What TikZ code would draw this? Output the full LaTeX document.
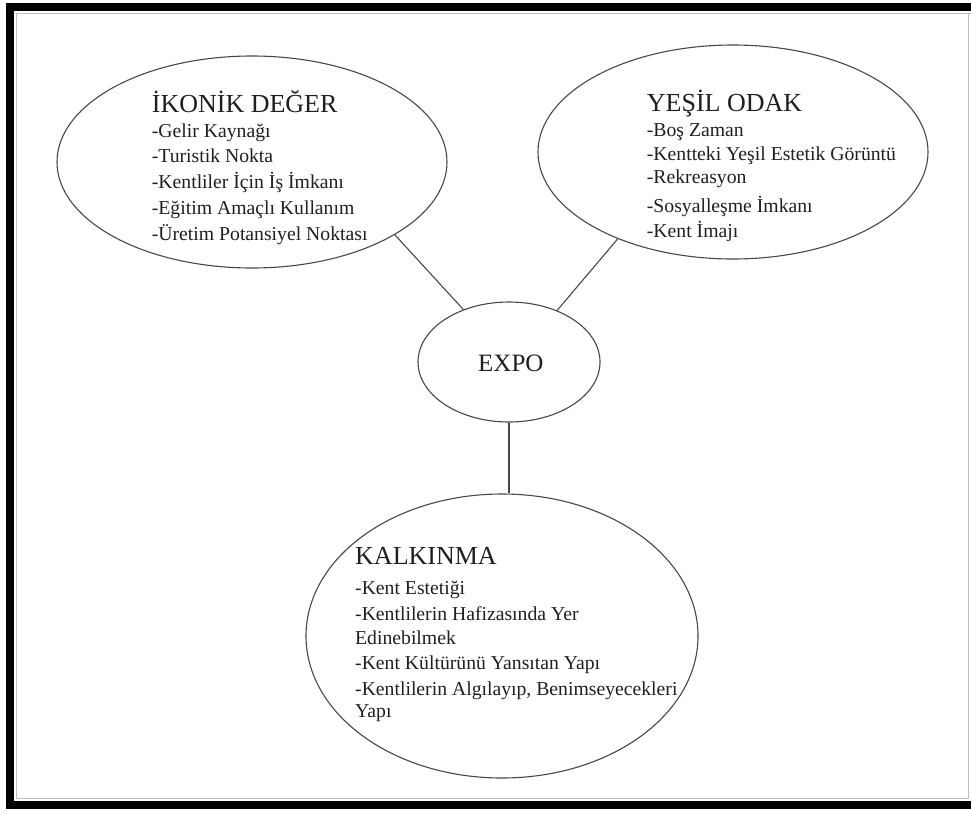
\documentclass[tikz,border=0pt]{standalone}
\usepackage{fontspec}
\setmainfont{Liberation Serif}
\usetikzlibrary{shapes.geometric}
\begin{document}
\begin{tikzpicture}[x=1pt,y=-1pt,
  bubble/.style={draw=black!72, line width=1.1pt, ellipse, inner sep=0pt},
  title/.style={anchor=base west, inner sep=0pt, font=\fontsize{26}{30}\selectfont, text=black!88},
  item/.style={anchor=base west, inner sep=0pt, font=\fontsize{19.7}{23}\selectfont, text=black!88},
  link/.style={draw=black!72, line width=1.1pt}]
\useasboundingbox (0,0) rectangle (971,812);
% frame
\draw[black!25, line width=0.6pt] (990,13.5) -- (16.5,13.5) -- (16.5,798.5) -- (968,798.5) -- (968,13.5);
\draw[black, line width=8pt] (995,7) -- (10,7) -- (10,805) -- (995,805);
% ellipses
\node[bubble, minimum width=390pt, minimum height=212pt] (ik) at (252,162) {};
\node[bubble, minimum width=390pt, minimum height=214pt] (yo) at (733,152) {};
\node[bubble, minimum width=182pt, minimum height=120pt] (expo) at (509,362) {};
\node[bubble, minimum width=392pt, minimum height=284pt] (kal) at (502,636) {};
% connectors
\draw[link] (ik.-27.5) -- (expo.131.6);
\draw[link] (yo.217.8) -- (expo.47.8);
\draw[link] (expo.south) -- (expo.south |- kal.north);
% EXPO text
\node[anchor=base west, inner sep=0pt, font=\fontsize{25}{30}\selectfont, text=black!88] (expot) at (478,371) {EXPO};
% left text
\node[title] (ikt) at (151.7,112.7) {İKONİK DEĞER};
\node[item] (ik1) at (151.7,137.3) {-Gelir Kaynağı};
\node[item] (ik2) at (151.7,162.5) {-Turistik Nokta};
\node[item] (ik3) at (151.7,188.3) {-Kentliler İçin İş İmkanı};
\node[item] (ik4) at (151.7,214) {-Eğitim Amaçlı Kullanım};
\node[item] (ik5) at (151.7,240) {-Üretim Potansiyel Noktası};
% right text
\node[title] (yot) at (646.7,111) {YEŞİL ODAK};
\node[item] (yo1) at (646.7,136.7) {-Boş Zaman};
\node[item] (yo2) at (646.7,160) {-Kentteki Yeşil Estetik Görüntü};
\node[item] (yo3) at (646.7,183.3) {-Rekreasyon};
\node[item] (yo4) at (646.7,212.7) {-Sosyalleşme İmkanı};
\node[item] (yo5) at (646.7,237.3) {-Kent İmajı};
% bottom text
\node[title] (kalt) at (355,564.3) {KALKINMA};
\node[item] (kal1) at (355,594) {-Kent Estetiği};
\node[item] (kal2) at (355,620.7) {-Kentlilerin Hafizasında Yer};
\node[item] (kal3) at (355,644) {Edinebilmek};
\node[item] (kal4) at (355,669.3) {-Kent Kültürünü Yansıtan Yapı};
\node[item] (kal5) at (355,695) {-Kentlilerin Algılayıp, Benimseyecekleri};
\node[item] (kal6) at (355,717.3) {Yapı};
\end{tikzpicture}
\end{document}
